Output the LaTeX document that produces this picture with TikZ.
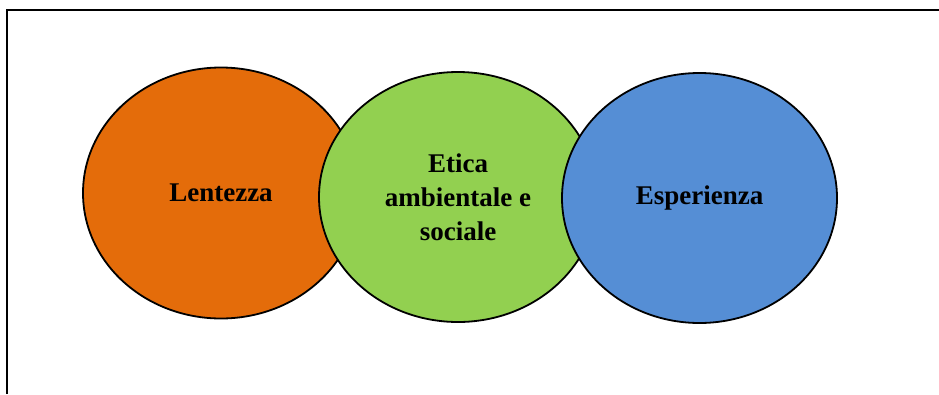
\documentclass[tikz,border=0pt]{standalone}
\usepackage{fontspec}
\setmainfont{Liberation Serif}
\usepackage{tikz}
\usetikzlibrary{shapes.geometric}
\definecolor{myorange}{HTML}{E46C0A}
\definecolor{mygreen}{HTML}{92D050}
\definecolor{myblue}{HTML}{558ED5}
\tikzset{
  bubble/.style={ellipse,draw=black,line width=1.8pt,inner sep=0pt,
    align=center,font=\fontsize{27}{34}\selectfont\bfseries}
}

\begin{document}
\begin{tikzpicture}[x=1pt,y=-1pt]

\useasboundingbox (0,0) rectangle (939,394);

\draw[line width=2.4pt] (7,394) -- (7,10) -- (939,10);

\node[bubble,fill=myorange,minimum width=276pt,minimum height=251pt] (lentezza) at (221,193) {Lentezza};
\node[bubble,fill=mygreen,minimum width=278pt,minimum height=250pt] (etica) at (458,197) {Etica\\ambientale e\\sociale};
\node[bubble,fill=myblue,minimum width=275pt,minimum height=250pt] (esperienza) at (699.5,198) {Esperienza};

\end{tikzpicture}
\end{document}
